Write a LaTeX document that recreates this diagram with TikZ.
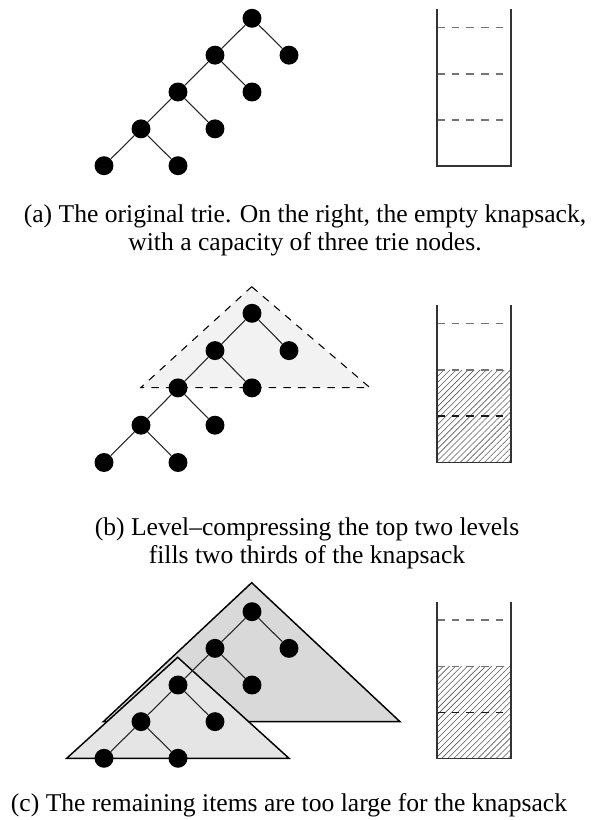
\documentclass[tikz,border=0pt]{standalone}
\usepackage{fontspec}
\setmainfont{Liberation Serif}
\usetikzlibrary{patterns.meta}

% A trie whose left spine is four levels deep: prefix, root y, level height
\newcommand\trie[3]{%
  \node[trienode] (#1r) at (252,{#2}) {};
  \node[trienode] (#1a) at (215,{#2+#3}) {};
  \node[trienode] (#1b) at (289,{#2+#3}) {};
  \node[trienode] (#1c) at (178,{#2+2*#3}) {};
  \node[trienode] (#1d) at (252,{#2+2*#3}) {};
  \node[trienode] (#1e) at (141,{#2+3*#3}) {};
  \node[trienode] (#1f) at (215,{#2+3*#3}) {};
  \node[trienode] (#1g) at (104,{#2+4*#3}) {};
  \node[trienode] (#1h) at (178,{#2+4*#3}) {};
  \draw[edge] (#1r) -- (#1a);
  \draw[edge] (#1r) -- (#1b);
  \draw[edge] (#1a) -- (#1c);
  \draw[edge] (#1a) -- (#1d);
  \draw[edge] (#1c) -- (#1e);
  \draw[edge] (#1c) -- (#1f);
  \draw[edge] (#1e) -- (#1g);
  \draw[edge] (#1e) -- (#1h);
}

\begin{document}
\begin{tikzpicture}[x=0.75pt,y=-0.75pt,
  trienode/.style={circle,fill=black,inner sep=0pt,minimum size=14.2pt},
  edge/.style={line width=0.8pt,draw=black!85},
  wall/.style={line width=1.1pt,draw=black!80},
  level/.style={line width=0.8pt,draw=black!55,dash pattern=on 5.7pt off 5.3pt},
  levelin/.style={level,draw=black!90},
  used/.style={pattern={Lines[angle=45,distance=3.2pt,line width=0.45pt]},pattern color=black!65},
  hull/.style={line width=0.8pt,draw=black,dash pattern=on 5.7pt off 5.3pt,fill=black!5},
  bighull/.style={line width=1.1pt,draw=black,line join=miter,fill=black!15},
  smallhull/.style={line width=1.1pt,draw=black,line join=miter,fill=black!10},
  caption/.style={font=\fontsize{19.2}{21}\selectfont,align=center,inner sep=0pt,anchor=base}
]
\useasboundingbox (0,0) rectangle (592,820);

% ---- (a) the original trie and the empty knapsack ----
\trie{A}{18.3}{36.85}
\draw[level] (437,27.7) -- (511,27.7);
\draw[level] (437,74) -- (511,74);
\draw[level] (437,120) -- (511,120);
\draw[wall] (437,9.3) -- (437,166) -- (511,166) -- (511,9.3);
% the base anchor of a two-line caption sits on its last line
\node[caption] (capA) at (305,250) {(a) The original trie. On the right, the empty knapsack,\\with a capacity of three trie nodes.};

% ---- (b) the top two levels compressed ----
\draw[hull] (251.7,286.7) -- (370,387.7) -- (140.7,387.7) -- cycle;
\trie{B}{313.3}{37.3}
\fill[used] (437,370) rectangle (511,462.7);
\draw[level] (437,323.3) -- (511,323.3);
\draw[level] (437,370) -- (511,370);
\draw[levelin] (437,416) -- (511,416);
\draw[wall] (437,305) -- (437,462.7) -- (511,462.7) -- (511,305);
\node[caption] (capB) at (307,563.5) {(b) Level--compressing the top two levels\\fills two thirds of the knapsack};

% ---- (c) the remaining candidates ----
\draw[bighull] (251.7,582.7) -- (400,721.7) -- (103.3,721.7) -- cycle;
\draw[smallhull] (177.7,657.3) -- (289,758.3) -- (66.7,758.3) -- cycle;
\trie{C}{611.7}{36.65}
\fill[used] (437,666.7) rectangle (511,758.3);
\draw[level] (437,620) -- (511,620);
\draw[level] (437,666.7) -- (511,666.7);
\draw[levelin] (437,712.7) -- (511,712.7);
\draw[wall] (437,601.7) -- (437,758.3) -- (511,758.3) -- (511,601.7);
\node[caption] (capC) at (289,811) {(c) The remaining items are too large for the knapsack};
\end{tikzpicture}
\end{document}
